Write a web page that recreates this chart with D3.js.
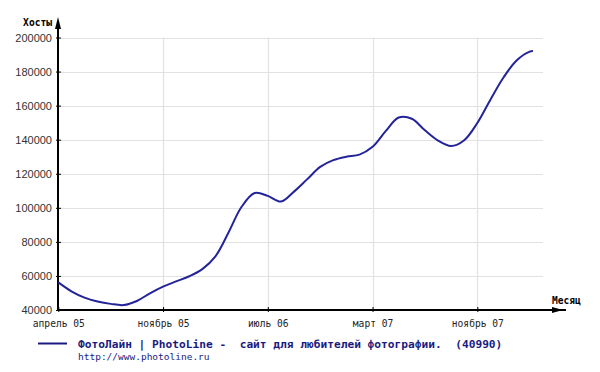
<!DOCTYPE html>
<html><head><meta charset="utf-8">
<script src="https://cdn.jsdelivr.net/npm/d3@7"></script>
<style>body{margin:0;background:#fff}svg{display:block}</style>
</head><body>
<script>
const hosts = [56200,51000,47300,45000,43600,42900,45300,49800,53700,56800,59800,64000,71500,85500,100600,108700,107000,103700,109500,116700,124000,128000,130000,131200,135800,145000,153000,152300,145500,139500,136300,139700,149800,163500,176500,186500,191700,192000];
const yTicks = [40000,60000,80000,100000,120000,140000,160000,180000,200000];
const xTickIndex = [0,8,16,24,32];
const xTickLabels = ["апрель 05","ноябрь 05","июль 06","март 07","ноябрь 07"];
const legendText = "ФотоЛайн | PhotoLine -  сайт для любителей фотографии.  (40990)";
const legendUrl = "http://www.photoline.ru";

const W=600,H=372;
const svg=d3.select("body").append("svg").attr("width",W).attr("height",H);
// last sample is a partial step (about a quarter of a period)
const idx=hosts.map((v,i)=> i<hosts.length-1 ? i : i-0.75);
const data=hosts.map((v,i)=>({i:idx[i],v}));

const x=d3.scaleLinear().domain([0,32]).range([58.3,477.3]);
const y=d3.scaleLinear().domain([40000,200000]).range([310,37.5]);
const gridRight=543;

svg.append("g").selectAll("line").data(yTicks.slice(1)).join("line")
 .attr("x1",58).attr("x2",gridRight).attr("y1",d=>Math.round(y(d))+0.5).attr("y2",d=>Math.round(y(d))+0.5)
 .attr("stroke","#e2e2e2").attr("stroke-width",1.2);
svg.append("g").selectAll("line").data(xTickIndex.slice(1)).join("line")
 .attr("x1",d=>Math.round(x(d))+0.5).attr("x2",d=>Math.round(x(d))+0.5)
 .attr("y1",y(200000)).attr("y2",310).attr("stroke","#e2e2e2").attr("stroke-width",1.2);

const yAxis=d3.axisLeft(y).tickValues(yTicks).tickSize(0).tickPadding(5).tickFormat(d3.format("d"));
const gy=svg.append("g").attr("transform","translate(58,0)").call(yAxis);
gy.select(".domain").remove();
gy.selectAll("text").attr("font-family","Liberation Sans, Arial, sans-serif").attr("font-size","11px").attr("fill","#333").attr("x",-6);
gy.selectAll(".tick").append("line").attr("x1",-2).attr("x2",3).attr("stroke","#000");

const xAxis=d3.axisBottom(x).tickValues(xTickIndex).tickSize(0).tickPadding(10)
 .tickFormat((d,i)=>xTickLabels[i]);
const gx=svg.append("g").attr("transform","translate(0,310)").call(xAxis);
gx.select(".domain").remove();
gx.selectAll("text").attr("font-family","DejaVu Sans Mono, monospace").attr("font-size","9.6px").attr("fill","#222");
gx.selectAll(".tick").append("line").attr("y1",-3).attr("y2",2).attr("stroke","#000");

svg.append("line").attr("x1",58).attr("x2",58).attr("y1",311).attr("y2",24).attr("stroke","#000").attr("stroke-width",2);
svg.append("path").attr("d","M58,17 L55,29 L61,29 Z").attr("fill","#000");
svg.append("line").attr("x1",57).attr("x2",566).attr("y1",310).attr("y2",310).attr("stroke","#000").attr("stroke-width",2);
svg.append("path").attr("d","M563,310 L552,307 L552,313 Z").attr("fill","#000");

svg.append("text").attr("x",52).attr("y",26).attr("text-anchor","end")
 .attr("font-family","DejaVu Sans Mono, monospace").attr("font-weight","bold").attr("font-size","9.6px").text("Хосты");
svg.append("text").attr("x",552).attr("y",304)
 .attr("font-family","DejaVu Sans Mono, monospace").attr("font-weight","bold").attr("font-size","9.6px").text("Месяц");

const line=d3.line().x(d=>x(d.i)).y(d=>y(d.v)).curve(d3.curveCatmullRom.alpha(0.5));
svg.append("path").datum(data).attr("d",line).attr("fill","none").attr("stroke","#24249a").attr("stroke-width",2);

svg.append("line").attr("x1",38).attr("x2",67).attr("y1",343.5).attr("y2",343.5).attr("stroke","#1a1a80").attr("stroke-width",2);
svg.append("text").attr("x",78).attr("y",347.5).attr("xml:space","preserve").style("white-space","pre")
 .attr("font-family","DejaVu Sans Mono, monospace").attr("font-weight","bold").attr("font-size","11.2px").attr("fill","#1a1a80")
 .text(legendText);
svg.append("text").attr("x",78).attr("y",360)
 .attr("font-family","DejaVu Sans Mono, monospace").attr("font-size","9.5px").attr("fill","#1a1a80").text(legendUrl);
</script>
</body></html>
